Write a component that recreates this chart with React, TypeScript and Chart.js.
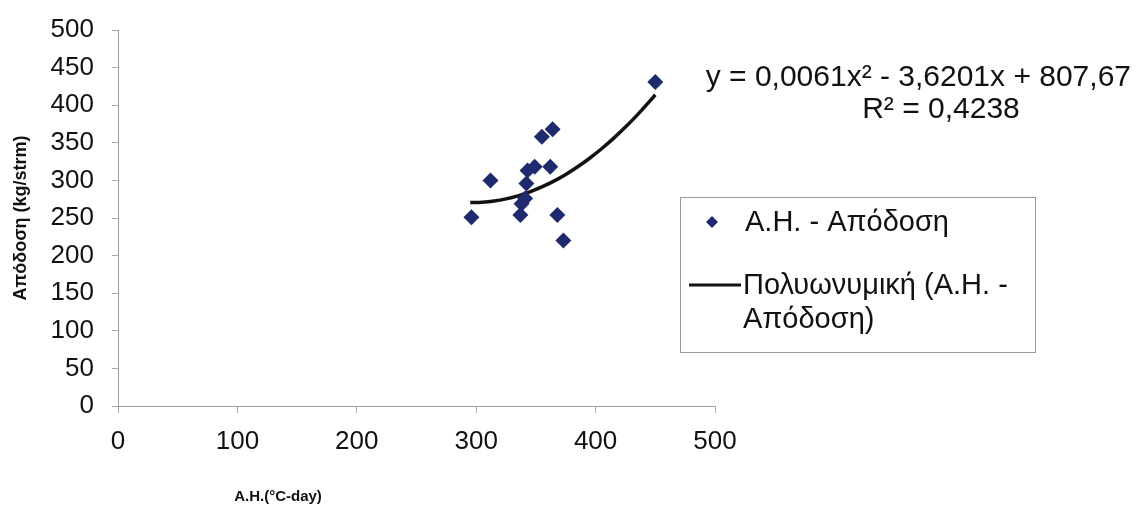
import { useEffect, useRef } from "react";
import { Chart, registerables } from "chart.js";

Chart.register(...registerables);

const seriesLabel = "Α.Η. - Απόδοση";
const trendLabelLines = ["Πολυωνυμική (Α.Η. -", "Απόδοση)"];
const equationText = "y = 0,0061x² - 3,6201x + 807,67";
const rSquaredText = "R² = 0,4238";
const xTitle = "A.H.(°C-day)";
const yTitle = "Απόδοση (kg/strm)";

const ahValues = [450, 364, 355, 349, 343, 362, 312, 342, 341, 338, 296, 337, 368, 373];
const yieldValues = [431, 368, 358, 318, 313, 318, 300, 296, 276, 269, 251, 254, 254, 220];

// polynomial trend: c0 + c1*x + c2*x^2 (from the displayed equation)
const trendCoefficients = [807.67, -3.6201, 0.0061];
const trendX = [295, 305, 315, 325, 335, 345, 355, 365, 375, 385, 395, 405, 415, 425, 435, 445, 450];

const xTicks = [0, 100, 200, 300, 400, 500];
const yTicks = [0, 50, 100, 150, 200, 250, 300, 350, 400, 450, 500];

const FONT = "'Liberation Sans', Arial, sans-serif";

export default function App() {
  const ref = useRef<HTMLCanvasElement | null>(null);

  useEffect(() => {
    document.body.style.margin = "0";
    const canvas = ref.current;
    if (!canvas) return;

    const points = ahValues.map((x, i) => ({ x, y: yieldValues[i] }));
    const trend = trendX.map((x) => ({
      x,
      y: trendCoefficients[0] + trendCoefficients[1] * x + trendCoefficients[2] * x * x,
    }));

    const overlay = {
      id: "overlay",
      afterDraw(chart: any) {
        const ctx = chart.ctx as CanvasRenderingContext2D;
        const area = chart.chartArea;
        ctx.save();
        ctx.fillStyle = "#111";
        ctx.textBaseline = "alphabetic";
        // equation
        ctx.font = `30px ${FONT}`;
        ctx.textAlign = "right";
        ctx.fillText(equationText, 1131, 86);
        ctx.textAlign = "center";
        ctx.fillText(rSquaredText, 941, 118);

        // x title
        ctx.font = `bold 15px ${FONT}`;
        ctx.textAlign = "center";
        ctx.fillText(xTitle, area.left + 160, 501);

        // legend box
        const lx = 680, ly = 197, lw = 355, lh = 155;
        ctx.strokeStyle = "#9a9a9a";
        ctx.lineWidth = 1;
        ctx.strokeRect(lx + 0.5, ly + 0.5, lw, lh);

        ctx.font = `29px ${FONT}`;
        ctx.textAlign = "left";
        ctx.textBaseline = "middle";
        // marker
        ctx.fillStyle = "#1f2a6e";
        ctx.beginPath();
        const mx = 712, my = 222, r = 6;
        ctx.moveTo(mx, my - r);
        ctx.lineTo(mx + r, my);
        ctx.lineTo(mx, my + r);
        ctx.lineTo(mx - r, my);
        ctx.closePath();
        ctx.fill();
        ctx.fillStyle = "#111";
        ctx.fillText(seriesLabel, 745, 223);

        ctx.strokeStyle = "#111";
        ctx.lineWidth = 3;
        ctx.beginPath();
        ctx.moveTo(689, 285);
        ctx.lineTo(741, 285);
        ctx.stroke();
        ctx.fillText(trendLabelLines[0], 743, 286);
        ctx.fillText(trendLabelLines[1], 743, 320);
        ctx.restore();
      },
    };

    const chart = new Chart(canvas, {
      type: "scatter",
      data: {
        datasets: [
          {
            label: seriesLabel,
            data: points,
            pointStyle: "rectRot",
            pointRadius: 8,
            pointBackgroundColor: "#1f2a6e",
            pointBorderColor: "#1f2a6e",
            pointBorderWidth: 0,
          },
          {
            label: trendLabelLines.join(" "),
            data: trend,
            showLine: true,
            borderColor: "#111",
            borderWidth: 3.5,
            pointRadius: 0,
            tension: 0.4,
            cubicInterpolationMode: "monotone",
          },
        ],
      },
      options: {
        animation: false,
        responsive: true,
        maintainAspectRatio: false,
        layout: { padding: { left: 10, right: 421, top: 30, bottom: 0 } },
        plugins: { legend: { display: false }, tooltip: { enabled: false } },
        scales: {
          x: {
            type: "linear",
            min: 0,
            max: 500,
            afterBuildTicks: (s: any) => {
              s.ticks = xTicks.map((v) => ({ value: v }));
            },
            afterFit: (s: any) => {
              s.height = 101;
              s.paddingLeft = 0;
              s.paddingRight = 0;
            },
            ticks: { font: { family: FONT, size: 26 }, color: "#111", padding: 13 },
            grid: { drawOnChartArea: false, drawTicks: true, tickLength: 7, color: "#a8a8a8" },
            border: { color: "#a0a0a0" },
          },
          y: {
            type: "linear",
            min: 0,
            max: 500,
            afterBuildTicks: (s: any) => {
              s.ticks = yTicks.map((v) => ({ value: v }));
            },
            afterFit: (s: any) => {
              s.width = 108;
              s.paddingTop = 0;
              s.paddingBottom = 0;
            },
            title: {
              display: true,
              text: yTitle,
              font: { family: FONT, size: 18, weight: "bold" },
              color: "#111",
              padding: 0,
            },
            ticks: { font: { family: FONT, size: 26 }, color: "#111", padding: 18 },
            grid: { drawOnChartArea: false, drawTicks: true, tickLength: 6, color: "#a8a8a8" },
            border: { color: "#a0a0a0" },
          },
        },
      },
      plugins: [overlay],
    });

    return () => chart.destroy();
  }, []);

  return (
    <div style={{ position: "absolute", left: 0, top: 0, width: 1136, height: 507, background: "#fff" }}>
      <canvas ref={ref} />
    </div>
  );
}
